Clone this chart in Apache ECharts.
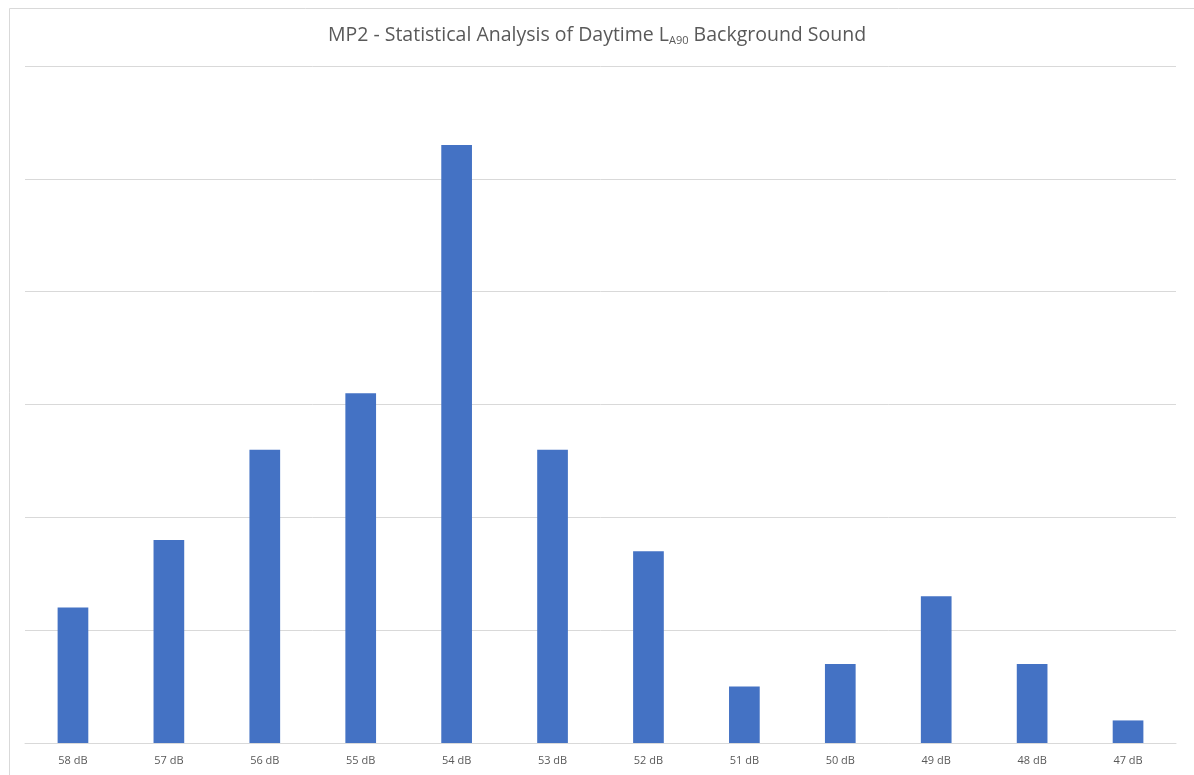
<!DOCTYPE html>
<html>
<head>
<meta charset="utf-8">
<script src="https://cdn.jsdelivr.net/npm/echarts@6/dist/echarts.min.js"></script>
<style>html,body{margin:0;padding:0;background:#fff;}#c{width:1194px;height:775px;}</style>
</head>
<body>
<div id="c"></div>
<script>
const categories = ['58 dB','57 dB','56 dB','55 dB','54 dB','53 dB','52 dB','51 dB','50 dB','49 dB','48 dB','47 dB'];
const counts = [12, 18, 26, 31, 53, 26, 17, 5, 7, 13, 7, 2];
const yMax = 60;
const yInterval = 10;

const chart = echarts.init(document.getElementById('c'), null, {renderer: 'canvas'});
chart.setOption({
  animation: false,
  backgroundColor: '#ffffff',
  graphic: [{
    type: 'rect', left: 7, top: 6,
    shape: {width: 1185, height: 800},
    style: {fill: 'none', stroke: '#d9d9d9', lineWidth: 1},
    silent: true
  }],
  title: {
    text: '{t|MP2 - Statistical Analysis of Daytime L}{s|A90}{t| Background Sound}',
    left: 'center', top: 19,
    textStyle: {
      rich: {
        t: {fontFamily: 'Open Sans', fontSize: 19.5, color: '#595959', fontWeight: 'normal'},
        s: {fontFamily: 'Open Sans', fontSize: 11, color: '#595959', fontWeight: 'normal', verticalAlign: 'bottom', padding: [11, 0, 0, 0]}
      }
    }
  },
  grid: {left: 25, right: 18, top: 66, bottom: 32, containLabel: false},
  xAxis: {
    type: 'category', data: categories,
    axisLine: {show: true, lineStyle: {color: '#d9d9d9', width: 1}},
    axisTick: {show: false},
    axisLabel: {color: '#595959', fontSize: 11, fontFamily: 'Open Sans', margin: 12}
  },
  yAxis: {
    type: 'value', min: 0, max: yMax, interval: yInterval,
    axisLabel: {show: false}, axisLine: {show: false}, axisTick: {show: false},
    splitLine: {lineStyle: {color: '#d9d9d9', width: 1}}
  },
  series: [{
    type: 'bar', data: counts, barWidth: '32%',
    itemStyle: {color: '#4472C4'}
  }]
});
</script>
</body>
</html>
